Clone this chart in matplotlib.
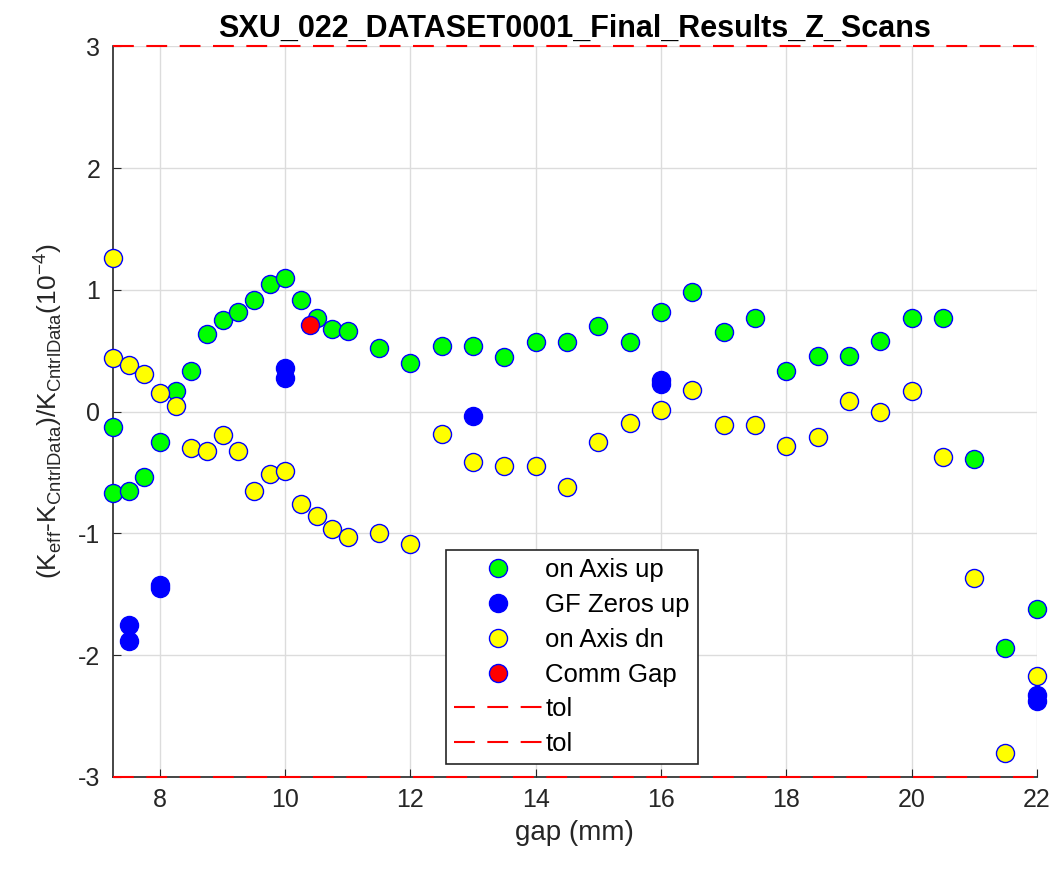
import numpy as np
import matplotlib.pyplot as plt

plt.rcParams['font.family'] = ['Liberation Sans', 'DejaVu Sans']
plt.rcParams['mathtext.fontset'] = 'custom'
plt.rcParams['mathtext.rm'] = 'Liberation Sans'
plt.rcParams['axes.unicode_minus'] = False

# on Axis up
up_gap = [7.25, 7.25, 7.5, 7.75, 8, 8.25, 8.5, 8.75, 9, 9.25, 9.5, 9.75, 10, 10.25, 10.5,
          10.75, 11, 11.5, 12, 12.5, 13, 13.5, 14, 14.5, 15, 15.5, 16, 16.5, 17, 17.5,
          18, 18.5, 19, 19.5, 20, 20.5, 21, 21.5, 22]
up_val = [-0.13, -0.67, -0.65, -0.54, -0.25, 0.17, 0.33, 0.64, 0.75, 0.82, 0.92, 1.05, 1.10, 0.92, 0.77,
          0.68, 0.66, 0.52, 0.40, 0.54, 0.54, 0.45, 0.57, 0.57, 0.70, 0.57, 0.82, 0.98, 0.65, 0.77,
          0.33, 0.46, 0.46, 0.58, 0.77, 0.77, -0.39, -1.94, -1.62]

# GF Zeros up
gf_gap = [7.5, 7.5, 8, 8, 10, 10, 13, 16, 16, 22, 22]
gf_val = [-1.75, -1.88, -1.42, -1.45, 0.36, 0.28, -0.04, 0.26, 0.23, -2.33, -2.38]

# on Axis dn
dn_gap = [7.25, 7.25, 7.5, 7.75, 8, 8.25, 8.5, 8.75, 9, 9.25, 9.5, 9.75, 10, 10.25, 10.5,
          10.75, 11, 11.5, 12, 12.5, 13, 13.5, 14, 14.5, 15, 15.5, 16, 16.5, 17, 17.5,
          18, 18.5, 19, 19.5, 20, 20.5, 21, 21.5, 22]
dn_val = [1.26, 0.44, 0.38, 0.31, 0.15, 0.05, -0.30, -0.32, -0.19, -0.32, -0.65, -0.51, -0.49, -0.76, -0.86,
          -0.96, -1.03, -1.00, -1.09, -0.18, -0.41, -0.45, -0.45, -0.62, -0.25, -0.09, 0.01, 0.18, -0.11, -0.11,
          -0.28, -0.21, 0.09, 0.0, 0.17, -0.37, -1.37, -2.80, -2.17]

# Comm Gap
comm_gap = [10.4]
comm_val = [0.71]

tol = 3

fig = plt.figure(figsize=(10.59, 8.73), dpi=100)
ax = fig.add_axes([0.1067, 0.110, 0.8723, 0.837])

ms = 13
kw = dict(ls='none', mec='blue', mew=1.0, ms=ms, clip_on=False, zorder=4)
ax.plot(up_gap, up_val, 'o', mfc=(0, 1, 0), label='on Axis up', **kw)
ax.plot(gf_gap, gf_val, 'o', mfc='blue', label='GF Zeros up', **kw)
ax.plot(dn_gap, dn_val, 'o', mfc='yellow', label='on Axis dn', **kw)
ax.plot(comm_gap, comm_val, 'o', mfc='red', label='Comm Gap', **kw)

xl = [7.25, 22]
ax.plot(xl, [tol, tol], color='red', lw=1.5, dashes=(10, 6), label='tol', clip_on=False, zorder=5)
ax.plot(xl, [-tol, -tol], color='red', lw=1.5, dashes=(10, 6), label='tol', clip_on=False, zorder=5)

ax.set_xlim(xl)
ax.set_ylim(-3, 3)
ax.set_xticks(np.arange(8, 23, 2))
ax.set_yticks(np.arange(-3, 4, 1))
ax.grid(True, color='#dcdcdc', lw=1)
ax.set_axisbelow(True)
ax.spines['top'].set_visible(False)
ax.spines['right'].set_visible(False)
for s in ['left', 'bottom']:
    ax.spines[s].set_color('#262626')
    ax.spines[s].set_linewidth(1.2)
ax.tick_params(direction='in', labelsize=18, colors='#262626', length=6)
ax.tick_params(axis='y', pad=9)
ax.tick_params(axis='x', pad=8)

ax.set_title('SXU_022_DATASET0001_Final_Results_Z_Scans', fontsize=22, fontweight='bold', pad=7)
ax.set_xlabel('gap (mm)', fontsize=20, color='#262626', labelpad=6)
ax.set_ylabel(r'(K$_{\rm eff}$-K$_{\rm CntrlData}$)/K$_{\rm CntrlData}$(10$^{-4}$)', fontsize=19,
              color='#262626', labelpad=10)

leg = ax.legend(loc='lower left', bbox_to_anchor=(0.361, 0.018), fontsize=18.5, handlelength=3.4,
                handletextpad=0.15, fancybox=False, framealpha=1, edgecolor='#262626',
                borderpad=0.3, labelspacing=0.42, borderaxespad=0)
leg.get_frame().set_linewidth(1.2)

fig.savefig('out.png', dpi=100)
